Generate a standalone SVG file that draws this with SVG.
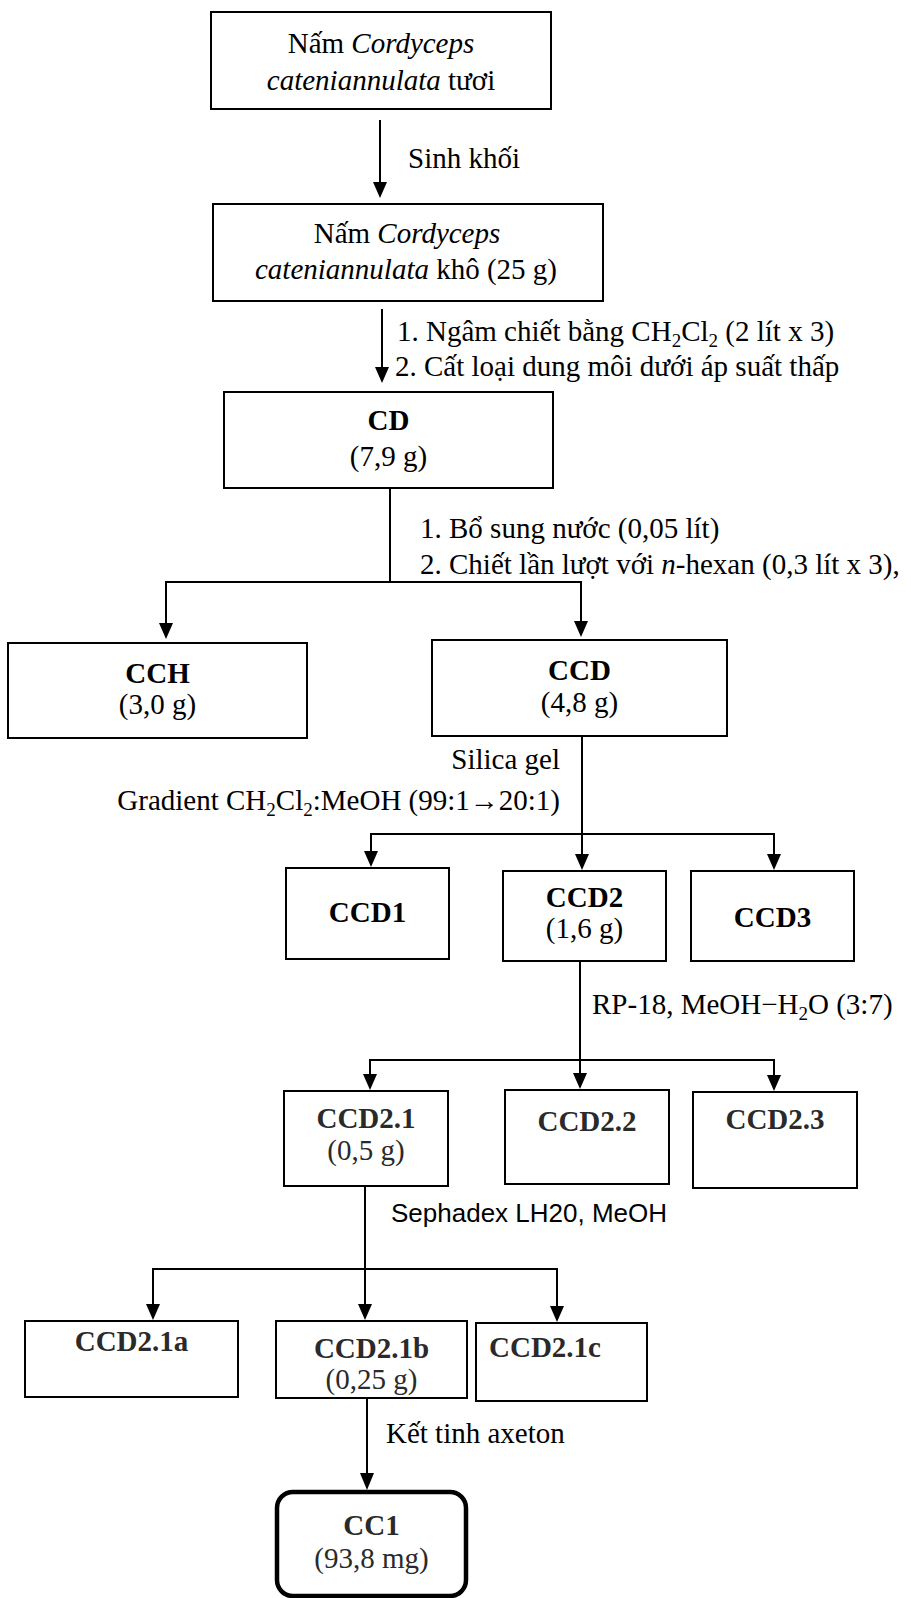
<svg xmlns="http://www.w3.org/2000/svg" width="911" height="1598" viewBox="0 0 911 1598">
<defs>
<style>
.box{fill:#fff;stroke:#000;stroke-width:2}
.t{font-family:"Liberation Serif","Times New Roman",serif;font-size:29px;fill:#000}
.c{text-anchor:middle}
.b{font-weight:bold}
.g{fill:#2a2a2a}
.s{font-family:"Liberation Sans",Arial,sans-serif;font-size:26px;fill:#000}
.ln{stroke:#000;stroke-width:2;fill:none}
</style>
</defs>
<rect width="911" height="1598" fill="#fff"/>

<g id="connectors">
<line class="ln" x1="380" y1="120" x2="380" y2="183"/>
<line class="ln" x1="382" y1="309" x2="382" y2="368"/>
<line class="ln" x1="390" y1="488" x2="390" y2="582"/>
<line class="ln" x1="166" y1="582" x2="581" y2="582" stroke-width="2.5"/>
<line class="ln" x1="166" y1="581" x2="166" y2="624"/>
<line class="ln" x1="581" y1="581" x2="581" y2="622"/>
<line class="ln" x1="582" y1="736" x2="582" y2="834"/>
<line class="ln" x1="371" y1="834" x2="774" y2="834" stroke-width="3"/>
<line class="ln" x1="371" y1="833" x2="371" y2="852"/>
<line class="ln" x1="582" y1="833" x2="582" y2="855"/>
<line class="ln" x1="774" y1="833" x2="774" y2="855"/>
<line class="ln" x1="580" y1="961" x2="580" y2="1060"/>
<line class="ln" x1="370" y1="1060" x2="774" y2="1060"/>
<line class="ln" x1="370" y1="1059" x2="370" y2="1075"/>
<line class="ln" x1="580" y1="1059" x2="580" y2="1074"/>
<line class="ln" x1="774" y1="1059" x2="774" y2="1076"/>
<line class="ln" x1="365" y1="1186" x2="365" y2="1269"/>
<line class="ln" x1="153" y1="1269" x2="557" y2="1269"/>
<line class="ln" x1="153" y1="1268" x2="153" y2="1305"/>
<line class="ln" x1="365" y1="1268" x2="365" y2="1305"/>
<line class="ln" x1="557" y1="1268" x2="557" y2="1307"/>
<line class="ln" x1="367" y1="1398" x2="367" y2="1474"/>
<g fill="#000">
<path d="M373,182 L387,182 L380,198 z"/>
<path d="M375,367 L389,367 L382,383 z"/>
<path d="M159,623 L173,623 L166,639 z"/>
<path d="M574,621 L588,621 L581,637 z"/>
<path d="M364,851 L378,851 L371,867 z"/>
<path d="M575,854 L589,854 L582,870 z"/>
<path d="M767,854 L781,854 L774,870 z"/>
<path d="M363,1074 L377,1074 L370,1090 z"/>
<path d="M573,1073 L587,1073 L580,1089 z"/>
<path d="M767,1075 L781,1075 L774,1091 z"/>
<path d="M146,1304 L160,1304 L153,1320 z"/>
<path d="M358,1304 L372,1304 L365,1320 z"/>
<path d="M550,1306 L564,1306 L557,1322 z"/>
<path d="M360,1473 L374,1473 L367,1490 z"/>
</g>
<text class="t" x="408" y="168">Sinh khối</text>
<text class="t" x="397" y="341">1. Ngâm chiết bằng CH<tspan font-size="19" dy="6">2</tspan><tspan dy="-6">Cl</tspan><tspan font-size="19" dy="6">2</tspan><tspan dy="-6"> (2 lít x 3)</tspan></text>
<text class="t" x="395" y="376">2. Cất loại dung môi dưới áp suất thấp</text>
<text class="t" x="420" y="538">1. Bổ sung nước (0,05 lít)</text>
<text class="t" x="420" y="574">2. Chiết lần lượt với <tspan font-style="italic">n</tspan>-hexan (0,3 lít x 3),</text>
<text class="t" x="560" y="769" text-anchor="end">Silica gel</text>
<text class="t" x="560" y="810" text-anchor="end">Gradient CH<tspan font-size="19" dy="6">2</tspan><tspan dy="-6">Cl</tspan><tspan font-size="19" dy="6">2</tspan><tspan dy="-6">:MeOH (99:1→20:1)</tspan></text>
<text class="t" x="592" y="1014">RP-18, MeOH−H<tspan font-size="19" dy="6">2</tspan><tspan dy="-6">O (3:7)</tspan></text>
<text class="s" x="391" y="1222">Sephadex LH20, MeOH</text>
<text class="t" x="386" y="1443">Kết tinh axeton</text>
</g>

<g id="n1">
<rect class="box" x="211" y="12" width="340" height="97"/>
<text class="t c" x="381" y="53">Nấm <tspan font-style="italic">Cordyceps</tspan></text>
<text class="t c" x="381" y="90"><tspan font-style="italic">cateniannulata</tspan> tươi</text>
</g>
<g id="n2">
<rect class="box" x="213" y="204" width="390" height="97"/>
<text class="t c" x="407" y="243">Nấm <tspan font-style="italic">Cordyceps</tspan></text>
<text class="t c" x="406" y="279"><tspan font-style="italic">cateniannulata</tspan> khô (25 g)</text>
</g>
<g id="cd">
<rect class="box" x="224" y="392" width="329" height="96"/>
<text class="t c b" x="388.5" y="430">CD</text>
<text class="t c" x="388.5" y="466">(7,9 g)</text>
</g>
<g id="cch">
<rect class="box" x="8" y="643" width="299" height="95"/>
<text class="t c b" x="157.5" y="683">CCH</text>
<text class="t c" x="157.5" y="714">(3,0 g)</text>
</g>
<g id="ccd">
<rect class="box" x="432" y="640" width="295" height="96"/>
<text class="t c b" x="579.5" y="680">CCD</text>
<text class="t c" x="579.5" y="712">(4,8 g)</text>
</g>
<g id="ccd1">
<rect class="box" x="286" y="868" width="163" height="91"/>
<text class="t c b" x="367.5" y="922">CCD1</text>
</g>
<g id="ccd2">
<rect class="box" x="503" y="871" width="163" height="90"/>
<text class="t c b" x="584.5" y="907">CCD2</text>
<text class="t c" x="584.5" y="938">(1,6 g)</text>
</g>
<g id="ccd3">
<rect class="box" x="691" y="871" width="163" height="90"/>
<text class="t c b" x="772.5" y="927">CCD3</text>
</g>
<g id="ccd21">
<rect class="box" x="284" y="1091" width="164" height="95"/>
<text class="t c b g" x="366" y="1128">CCD2.1</text>
<text class="t c g" x="366" y="1160">(0,5 g)</text>
</g>
<g id="ccd22">
<rect class="box" x="505" y="1090" width="164" height="94"/>
<text class="t c b g" x="587" y="1131">CCD2.2</text>
</g>
<g id="ccd23">
<rect class="box" x="693" y="1092" width="164" height="96"/>
<text class="t c b g" x="775" y="1129">CCD2.3</text>
</g>
<g id="ccd21a">
<rect class="box" x="25" y="1321" width="213" height="76"/>
<text class="t c b g" x="131.5" y="1351">CCD2.1a</text>
</g>
<g id="ccd21b">
<rect class="box" x="276" y="1321" width="191" height="77"/>
<text class="t c b g" x="371.5" y="1358">CCD2.1b</text>
<text class="t c g" x="371.5" y="1389">(0,25 g)</text>
</g>
<g id="ccd21c">
<rect class="box" x="476" y="1323" width="171" height="78"/>
<text class="t b g" x="489" y="1357">CCD2.1c</text>
</g>
<g id="cc1">
<rect x="277" y="1492" width="189" height="104" rx="16" fill="#fff" stroke="#000" stroke-width="4.5"/>
<text class="t c b g" x="371.5" y="1535">CC1</text>
<text class="t c g" x="371.5" y="1568">(93,8 mg)</text>
</g>
</svg>
